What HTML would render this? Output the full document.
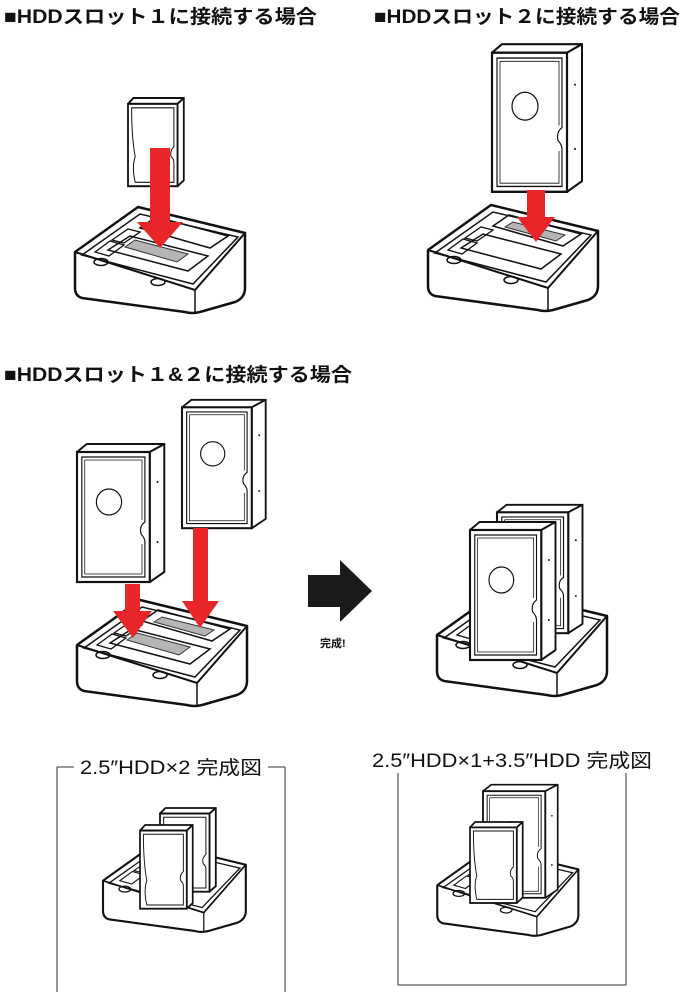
<!DOCTYPE html>
<html><head><meta charset="utf-8"><style>
html,body{margin:0;padding:0;background:#fff;}
svg{display:block}
text{font-family:"Liberation Sans","Noto Sans CJK JP",sans-serif;fill:#111}
</style></head><body>
<svg width="692" height="994" viewBox="0 0 692 994" xmlns="http://www.w3.org/2000/svg">
<defs>
<g id="dock">
 <path d="M75,252 L138,207 L245,233 L245,288 Q245,298 235,302 L200,312 Q192,314 185,312 L82,298 Q75,296 75,288 Z" fill="#fff" stroke="#111" stroke-width="2.5" stroke-linejoin="round"/>
 <path d="M75,252 L195,290 L245,233" fill="none" stroke="#111" stroke-width="2"/>
 <path d="M195,290 L195,312" fill="none" stroke="#111" stroke-width="1.5"/>
 <path d="M82,255 L140,214 L238,237 L193,284 Z" fill="none" stroke="#111" stroke-width="1.5"/>
 <path d="M95,252 L110,241 L124,245 L109,256 Z" fill="none" stroke="#111" stroke-width="1.3"/>
 <path d="M112,240 L128,229 L140,232 L124,243 Z" fill="none" stroke="#111" stroke-width="1.3"/>
 <ellipse cx="101" cy="262" rx="7" ry="3.5" fill="none" stroke="#111" stroke-width="1.5"/>
 <ellipse cx="158" cy="282" rx="7" ry="3.5" fill="none" stroke="#111" stroke-width="1.5"/>
</g>
<path id="slotA" d="M108,250 L130,236 L208,256 L188,271 Z" fill="none" stroke="#111" stroke-width="1.5"/>
<path id="slotAg" d="M125,247 L135,240 L188,254 L177,262 Z" fill="#b5b5b5" stroke="#333" stroke-width="1"/>
<path id="slotB" d="M140,228 L156,217 L228,236 L210,248 Z" fill="none" stroke="#111" stroke-width="1.5"/>
<path id="slotBg" d="M152,229 L160,224 L212,237 L203,243 Z" fill="#b5b5b5" stroke="#333" stroke-width="1"/>
<g id="d35">
 <path d="M0,10 L10,2 L90,2 L75,10 Z" fill="#fff" stroke="#111" stroke-width="2" stroke-linejoin="round"/>
 <path d="M75,10 L90,2 L90,130 L75,140 Z" fill="#fff" stroke="#111" stroke-width="2" stroke-linejoin="round"/>
 <rect x="0" y="10" width="75" height="130" fill="#fff" stroke="#111" stroke-width="2.2"/>
 <path d="M5,15 H70 V80 Q64,84 66,92 Q70,96 70,100 V135 H5 Z" fill="none" stroke="#111" stroke-width="1.2"/>
 <path d="M8,18 H67 V78 M67,102 V132 H8 V18" fill="none" stroke="#111" stroke-width="0.8"/>
 <circle cx="33" cy="60" r="13" fill="none" stroke="#111" stroke-width="1.2"/>
 <circle cx="83" cy="40" r="1" fill="#111"/><circle cx="83" cy="100" r="1" fill="#111"/>
</g>
<g id="d25">
 <path d="M0,6 L6,0 L62,0 L55,6 Z" fill="#fff" stroke="#111" stroke-width="2" stroke-linejoin="round"/>
 <path d="M55,6 L62,0 L62,84 L55,90 Z" fill="#fff" stroke="#111" stroke-width="2" stroke-linejoin="round"/>
 <rect x="0" y="6" width="55" height="84" fill="#fff" stroke="#111" stroke-width="2"/>
 <path d="M4,10 H51 V50 Q46,54 48,60 Q51,62 51,66 V86 H8 Q4,70 8,60 Q4,40 4,10 Z" fill="none" stroke="#111" stroke-width="1.1"/>
</g>
</defs>

<!-- headings -->
<text x="4" y="23" font-size="19" font-weight="bold" textLength="313" lengthAdjust="spacingAndGlyphs">■HDDスロット１に接続する場合</text>
<text x="374" y="23" font-size="19" font-weight="bold" textLength="306" lengthAdjust="spacingAndGlyphs">■HDDスロット２に接続する場合</text>
<text x="4" y="381" font-size="19" font-weight="bold" textLength="348" lengthAdjust="spacingAndGlyphs">■HDDスロット１&amp;２に接続する場合</text>

<!-- Panel 1 -->
<use href="#dock"/>
<use href="#slotB"/><use href="#slotA"/><use href="#slotAg"/>
<use href="#d25" transform="translate(128,98) scale(0.9,0.98)"/>
<rect x="150" y="148" width="20" height="78" fill="#e8262a"/>
<path d="M137,222 L183,222 L160,248 Z" fill="#e8262a"/>

<!-- Panel 2 -->
<use href="#dock" transform="translate(353,-2)"/>
<g transform="translate(353,-2)"><use href="#slotA"/><use href="#slotB"/><use href="#slotBg"/></g>
<use href="#d35" transform="translate(492,42) scale(1.0,1.07)"/>
<rect x="527" y="190" width="18" height="30" fill="#e8262a"/>
<path d="M517,217 L555,217 L536,242 Z" fill="#e8262a"/>

<!-- Panel 3 -->
<use href="#dock" transform="translate(2,393)"/>
<g transform="translate(2,393)"><use href="#slotB"/><use href="#slotBg"/><use href="#slotA"/><use href="#slotAg"/></g>
<use href="#d35" transform="translate(182,398) scale(0.93,0.93)"/>
<use href="#d35" transform="translate(77,442) scale(0.97,1.0)"/>
<rect x="193" y="528" width="15" height="76" fill="#e8262a"/>
<path d="M182,601 L219,601 L200,628 Z" fill="#e8262a"/>
<rect x="125" y="584" width="15" height="30" fill="#e8262a"/>
<path d="M113,611 L152,611 L133,638 Z" fill="#e8262a"/>

<!-- big arrow -->
<path d="M308,575 L340,575 L340,560 L372,591 L340,622 L340,607 L308,607 Z" fill="#1a1a1a"/>
<text x="320" y="647" font-size="11" font-weight="bold">完成!</text>

<!-- Panel 4 -->
<use href="#dock" transform="translate(362,383)"/>
<use href="#d35" transform="translate(497,503) scale(0.95,0.93)"/>
<use href="#d35" transform="translate(470,520) scale(0.95,1.0)"/>

<!-- bottom left box -->
<path d="M57,767 H74 M268,767 H285 M57,767 V992 M285,767 V992" stroke="#333" stroke-width="1" fill="none"/>
<text x="80" y="774" font-size="19" textLength="182" lengthAdjust="spacingAndGlyphs">2.5″HDD×2 完成図</text>
<use href="#dock" transform="translate(40,669) scale(0.84)"/>
<use href="#d25" transform="translate(160,808) scale(0.9,0.93)"/>
<use href="#d25" transform="translate(140,825) scale(0.85,0.93)"/>

<!-- bottom right box -->
<path d="M398,773 V985 H626 V773" stroke="#333" stroke-width="1" fill="none"/>
<text x="372" y="767" font-size="19" textLength="280" lengthAdjust="spacingAndGlyphs">2.5″HDD×1+3.5″HDD 完成図</text>
<use href="#dock" transform="translate(375,676) scale(0.83)"/>
<use href="#d35" transform="translate(483,783) scale(0.83,0.82)"/>
<use href="#d25" transform="translate(470,822) scale(0.85,0.9)"/>
</svg>
</body></html>
